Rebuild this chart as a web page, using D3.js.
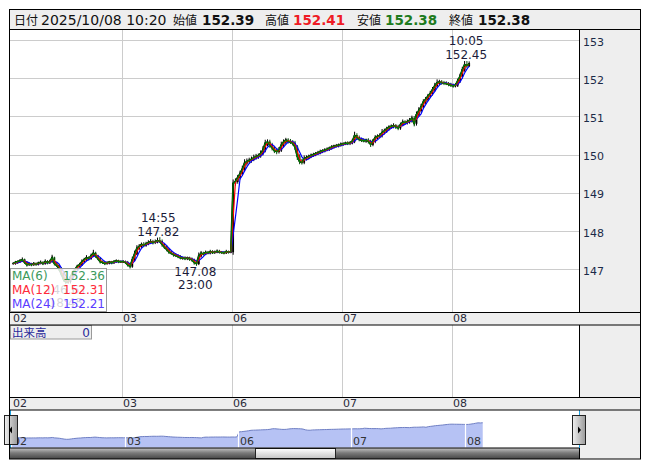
<!DOCTYPE html>
<html><head><meta charset="utf-8">
<script src="https://cdn.jsdelivr.net/npm/d3@7"></script>
<style>
body{margin:0;background:#fff;}
svg{display:block;}
text{font-family:"DejaVu Sans",Verdana,sans-serif;}
.jp{font-family:"Noto Sans CJK JP","DejaVu Sans",sans-serif;}
</style>
</head><body>
<svg id="c" width="653" height="470"></svg>
<script>
// ---------- DATA ----------
const dayLabels = ["02","03","06","07","08"];
// 30-minute closes, each day starting 07:00
const close02 = [147.15,147.18,147.20,147.22,147.25,147.18,147.12,147.14,147.12,147.15,147.13,147.16,
  147.18,147.15,147.20,147.17,147.20,147.30,147.15,147.10,147.02,146.88,146.74,146.66,
  146.68,146.80,146.92,147.00,147.08,147.12,147.20,147.25,147.30,147.28,147.35,147.42,
  147.35,147.28,147.20,147.18,147.15,147.17,147.19,147.17,147.20,147.22,147.20,147.20];
const close03 = [147.20,147.18,147.12,147.08,147.25,147.40,147.55,147.60,147.65,147.63,147.67,147.70,
  147.72,147.70,147.72,147.75,147.73,147.65,147.58,147.52,147.45,147.42,147.38,147.36,
  147.33,147.30,147.30,147.28,147.30,147.27,147.25,147.18,147.15,147.35,147.42,147.40,
  147.44,147.43,147.46,147.44,147.45,147.47,147.45,147.44,147.43,147.46,147.45,147.46];
const close06 = [149.25,149.30,149.40,149.50,149.62,149.78,149.82,149.85,149.88,149.92,149.95,149.97,
  150.03,150.12,150.30,150.33,150.25,150.18,150.10,150.08,150.12,150.25,150.33,150.38,
  150.35,150.33,150.30,150.20,149.95,149.82,149.80,149.90,149.92,149.95,149.98,150.00,
  150.03,150.05,150.08,150.10,150.12,150.14,150.17,150.20,150.22,150.23,150.25,150.27];
const close07 = [150.28,150.30,150.29,150.31,150.35,150.50,150.45,150.40,150.38,150.36,150.38,150.35,
  150.27,150.35,150.45,150.48,150.50,150.58,150.62,150.68,150.72,150.74,150.76,150.73,
  150.70,150.78,150.85,150.84,150.86,150.90,150.95,150.82,151.05,151.15,151.25,151.38,
  151.45,151.53,151.60,151.70,151.80,151.88,151.90,151.88,151.87,151.86,151.84,151.82];
const close08 = [151.80,151.82,151.93,152.05,152.22,152.35,152.33,152.38];
// upper / lower wick lengths of each 30-minute bar, in 0.01 yen
const wickUp02 = [3,4,3,5,6,3,3,4,3,4,3,4,5,3,6,4,5,8,3,4,3,4,3,5,4,3,4,3,4,5,6,5,7,4,6,9,4,3,4,3,3,4,3,3,4,4,3,3];
const wickDn02 = [3,3,4,3,3,4,5,3,4,3,4,3,3,4,3,4,3,3,5,4,6,5,6,5,4,5,4,5,4,3,3,4,3,5,3,3,5,4,5,4,4,3,4,4,3,3,4,3];
const wickUp03 = [4,3,4,5,8,9,8,6,5,6,5,6,7,5,6,8,9,5,4,5,4,4,3,4,3,4,3,4,3,3,4,3,4,9,6,4,5,4,5,4,4,5,4,3,4,5,3,4];
const wickDn03 = [3,4,5,6,4,4,3,5,4,5,4,4,4,5,4,4,4,6,5,5,5,4,5,4,4,4,5,4,4,5,5,6,6,4,4,4,3,4,4,4,4,3,4,4,4,3,4,3];
const wickUp06 = [10,8,7,8,9,10,8,7,7,8,7,6,8,10,9,7,6,6,5,6,8,9,7,6,5,6,5,6,5,6,7,8,6,5,5,5,4,5,5,4,5,5,4,5,4,5,4,5];
const wickDn06 = [8,6,6,5,5,6,7,6,6,5,5,6,5,5,6,8,7,7,6,7,5,5,6,6,6,5,6,8,9,7,6,5,5,4,4,4,4,4,4,4,4,3,4,4,4,3,4,4];
const wickUp07 = [4,4,5,4,6,10,6,5,4,5,4,5,4,6,6,5,6,9,6,5,5,5,6,4,5,6,7,5,6,6,7,6,8,9,8,7,6,6,7,7,8,9,6,5,5,5,4,4];
const wickDn07 = [4,3,4,4,4,5,6,5,5,4,5,6,7,5,5,5,5,5,5,5,5,4,5,6,6,5,4,5,5,5,6,8,6,5,5,5,6,5,5,5,5,5,6,5,5,4,5,5];
const wickUp08 = [4,5,6,7,8,10,10,6];
const wickDn08 = [5,4,5,5,6,5,6,4];

const yTicks = [147,148,149,150,151,152,153];
const maPeriods = [6,12,24];
const maLegendValues = ["152.36","152.31","152.21"];
const headerLabels = ["日付","始値","高値","安値","終値"];
const headerValues = ["2025/10/08 10:20","152.39","152.41","152.38","152.38"];
// marked extremes: day index, clock time, value, side
const extremeDays = [0,1,1,4];
const extremeTimes = ["18:45","14:55","23:00","10:05"];
const extremeValues = [146.61,147.82,147.08,152.45];
const extremeSides = ["low","high","low","high"];
const volumeLabel = "出来高";
const volumeValue = "0";

// ---------- SETUP ----------
const BARS_PER_DAY = 48, BAR_MIN = 30, MA_BASE_MIN = 5;
const allDays = [close02, close03, close06, close07, close08];
const allUp = [wickUp02, wickUp03, wickUp06, wickUp07, wickUp08];
const allDn = [wickDn02, wickDn03, wickDn06, wickDn07, wickDn08];
const series = [];
allDays.forEach((arr,d)=>arr.forEach((v,i)=>series.push({idx:d*BARS_PER_DAY+i, c:v, up:allUp[d][i]/100, dn:allDn[d][i]/100})));
series.forEach((p,k)=>{
  p.o = k>0 ? series[k-1].c : p.c;
  p.h = Math.max(p.o,p.c)+p.up;
  p.l = Math.min(p.o,p.c)-p.dn;
});

const svg = d3.select("#c");
const L=10, R=579, RR=641;
const plotTop=29.5, plotBot=312;

const x = d3.scaleLinear().domain([0, 5*BARS_PER_DAY]).range([12, 562]);
const y = d3.scaleLinear().domain([147,153]).range([269.3, 40]);
const nx = d3.scaleLinear().domain([0, 5*BARS_PER_DAY]).range([11, 578.5]);
const ny = d3.scaleLinear().domain([143.9, 156.8]).range([447.3, 410]);

const defs = svg.append("defs");
function grad(id, stops, vertical=true){
  const g = defs.append("linearGradient").attr("id",id)
    .attr("x1",0).attr("y1",0).attr("x2",vertical?0:1).attr("y2",vertical?1:0);
  stops.forEach(([o,c])=>g.append("stop").attr("offset",o).attr("stop-color",c));
}
grad("sb",[[0,"#c4c4c4"],[0.45,"#7a7a7a"],[1,"#444"]]);
grad("thumb",[[0,"#ffffff"],[1,"#c4c4c4"]]);
grad("btn",[[0,"#f0f0f0"],[1,"#9a9a9a"]], false);
defs.append("clipPath").attr("id","plotclip").append("rect")
  .attr("x",L).attr("y",plotTop).attr("width",R-L).attr("height",plotBot-plotTop);

// backgrounds
svg.append("rect").attr("x",L).attr("y",10).attr("width",RR-L).attr("height",449).attr("fill","#eeeeee");
svg.append("rect").attr("x",L).attr("y",plotTop).attr("width",R-L).attr("height",plotBot-plotTop).attr("fill","#fff");
svg.append("rect").attr("x",L).attr("y",325).attr("width",R-L).attr("height",72.5).attr("fill","#fff");
svg.append("rect").attr("x",L).attr("y",410).attr("width",R-L).attr("height",38).attr("fill","#fff");

// grid main
const grid = svg.append("g").attr("stroke","#cccccc").attr("stroke-width",1);
yTicks.forEach(t=>grid.append("line").attr("x1",L).attr("x2",R).attr("y1",Math.round(y(t))+0.5).attr("y2",Math.round(y(t))+0.5));
dayLabels.forEach((d,k)=>{ if(k===0) return;
  const gx = Math.round(x(k*BARS_PER_DAY))+0.5;
  grid.append("line").attr("x1",gx).attr("x2",gx).attr("y1",plotTop).attr("y2",plotBot);
  grid.append("line").attr("x1",gx).attr("x2",gx).attr("y1",325).attr("y2",397.5);
});

// price marks
const pg = svg.append("g").attr("clip-path","url(#plotclip)");
const cx = d=>x(d.idx+0.5);
pg.append("path").datum(series).attr("fill","none").attr("stroke","#000").attr("stroke-width",1.8)
  .attr("d", d3.line().x(cx).y(d=>y(d.c)));
pg.selectAll("line.wick").data(series).join("line").attr("class","wick")
  .attr("x1",cx).attr("x2",cx).attr("y1",d=>y(d.h)).attr("y2",d=>y(d.l))
  .attr("stroke",d=>d.c>=d.o?"#000":"#0b4f0b").attr("stroke-width",1);
pg.selectAll("rect.cdl").data(series).join("rect").attr("class","cdl")
  .attr("x",d=>cx(d)-0.9).attr("width",1.8)
  .attr("y",d=>y(Math.max(d.o,d.c))-0.5).attr("height",d=>Math.abs(y(d.o)-y(d.c))+1)
  .attr("fill",d=>d.c>=d.o?"#000":"#0b4f0b");

function movingAvg(period){
  const w = Math.max(1, Math.round(period*MA_BASE_MIN/BAR_MIN));
  return series.map((p,k)=>{
    const s = series.slice(Math.max(0,k-w+1), k+1);
    return {idx:p.idx, v:d3.mean(s,q=>q.c)};
  });
}
const maColors = {6:"#008000",12:"#ff0000",24:"#0000ff"};
[24,12,6].forEach(p=>{
  pg.append("path").datum(movingAvg(p)).attr("fill","none").attr("stroke",maColors[p]).attr("stroke-width",1.2)
    .attr("d", d3.line().x(d=>x(d.idx+0.5)).y(d=>y(d.v)));
});

// extreme labels
extremeValues.forEach((v,k)=>{
  const [hh,mm] = extremeTimes[k].split(":").map(Number);
  const idx = extremeDays[k]*BARS_PER_DAY + ((hh-7)*60+mm)/BAR_MIN;
  const px = x(idx), py = y(v);
  const g = svg.append("g").attr("fill","#1b1b3a").attr("font-size",12).attr("text-anchor","middle");
  if(extremeSides[k]==="high"){
    g.append("text").attr("x",px).attr("y",py-16).text(extremeTimes[k]);
    g.append("text").attr("x",px).attr("y",py-2).text(v.toFixed(2));
  } else {
    g.append("text").attr("x",px).attr("y",py+9.5).text(v.toFixed(2));
    g.append("text").attr("x",px).attr("y",py+23).text(extremeTimes[k]);
  }
});

// MA legend (semi-transparent)
svg.append("rect").attr("x",10.5).attr("y",268.5).attr("width",96).attr("height",43)
  .attr("fill","#fff").attr("fill-opacity",0.82).attr("stroke","#9a9a9a");
const legColors = ["#3c9a5c","#ff2a3a","#5a3cff"];
maPeriods.forEach((p,k)=>{
  svg.append("text").attr("x",12).attr("y",279.5+k*14).attr("font-size",12).attr("fill",legColors[k]).text(`MA(${p})`);
  svg.append("text").attr("x",105).attr("y",279.5+k*14).attr("font-size",12).attr("fill",legColors[k])
    .attr("text-anchor","end").text(maLegendValues[k]);
});

// right axis labels
yTicks.forEach(t=>svg.append("text").attr("x",583).attr("y",y(t)+5.5).attr("font-size",11)
  .attr("fill","#1b2a48").text(t));

// x axis strips
[322, 407].forEach(by=>{
  dayLabels.forEach((d,k)=>svg.append("text").attr("x",x(k*BARS_PER_DAY)+1).attr("y",by)
    .attr("font-size",11).attr("fill","#2a2a3a").text(d));
});

// volume label box
svg.append("rect").attr("x",10.5).attr("y",325.5).attr("width",81).attr("height",13.5)
  .attr("fill","#eeeeee").attr("stroke","#9a9a9a");
svg.append("text").attr("class","jp").attr("x",12).attr("y",336.5).attr("font-size",11.5).attr("fill","#2a2a9a").text(volumeLabel);
svg.append("text").attr("x",90).attr("y",336.5).attr("font-size",12).attr("fill","#2a2a9a").attr("text-anchor","end").text(volumeValue);

// navigator
const ng = svg.append("g");
ng.append("path").datum(series).attr("fill","#b6c2f4").attr("stroke","none")
  .attr("d", d3.area().x(d=>nx(d.idx+0.5)).y0(447.5).y1(d=>ny(d.c)));
ng.append("path").datum(series).attr("fill","none").attr("stroke","#7080c4").attr("stroke-width",1)
  .attr("d", d3.line().x(d=>nx(d.idx+0.5)).y(d=>ny(d.c)));
dayLabels.forEach((d,k)=>{
  const gx = Math.round(nx(k*BARS_PER_DAY))+0.5;
  if(k>0) ng.append("line").attr("x1",gx).attr("x2",gx).attr("y1",412).attr("y2",448).attr("stroke","#fff").attr("stroke-width",1.2);
  ng.append("text").attr("x",gx+1.5).attr("y",445).attr("font-size",11).attr("fill","#333").text(d);
});
ng.append("line").attr("x1",10.5).attr("x2",10.5).attr("y1",410).attr("y2",448).attr("stroke","#1ea0e0");
ng.append("line").attr("x1",579.5).attr("x2",579.5).attr("y1",410).attr("y2",448).attr("stroke","#1ea0e0");

// scrollbar
svg.append("rect").attr("x",10).attr("y",448).attr("width",569.5).attr("height",11).attr("fill","url(#sb)");
svg.append("rect").attr("x",255.5).attr("y",448.5).attr("width",80).attr("height",10).attr("fill","url(#thumb)").attr("stroke","#222");
// buttons
function button(bx, dir){
  svg.append("rect").attr("x",bx+0.5).attr("y",415.5).attr("width",13).attr("height",29)
    .attr("fill","url(#btn)").attr("stroke","#222");
  const cxm = bx+7, cym = 430;
  const pts = dir<0 ? [[cxm-2,cym],[cxm+1,cym-3.5],[cxm+1,cym+3.5]] : [[cxm+2,cym],[cxm-1,cym-3.5],[cxm-1,cym+3.5]];
  svg.append("polygon").attr("points",pts.map(p=>p.join(",")).join(" ")).attr("fill","#000");
}
button(4,-1);
button(572,1);

// frame lines
const fl = svg.append("g").attr("stroke","#000").attr("stroke-width",1).attr("fill","none");
fl.append("rect").attr("x",9.5).attr("y",9.5).attr("width",631).attr("height",449.5);
[[L,RR,29.5],[L,RR,312.5],[L,RR,325],[L,RR,397.5],[L,RR,410],[L,R,448]].forEach(([a,b,yy])=>
  fl.append("line").attr("x1",a).attr("x2",b).attr("y1",yy).attr("y2",yy));
fl.append("line").attr("x1",579.5).attr("x2",579.5).attr("y1",29.5).attr("y2",312.5);
fl.append("line").attr("x1",579.5).attr("x2",579.5).attr("y1",325).attr("y2",397.5);
fl.append("line").attr("x1",579.5).attr("x2",579.5).attr("y1",448).attr("y2",459);

// header
const hx = [[14,41],[173,202],[265,293],[357,385],[449,478]];
const hColors = ["#111","#111","#ee1c25","#1e7b1e","#111"];
headerLabels.forEach((lab,k)=>{
  svg.append("text").attr("class","jp").attr("x",hx[k][0]).attr("y",25).attr("font-size",12).attr("fill","#111").text(lab);
  svg.append("text").attr("x",hx[k][1]).attr("y",25).attr("font-size",k===0?14:13.5)
    .attr("font-weight",k===0?"normal":"bold").attr("fill",hColors[k]).text(headerValues[k]);
});
</script>
</body></html>
